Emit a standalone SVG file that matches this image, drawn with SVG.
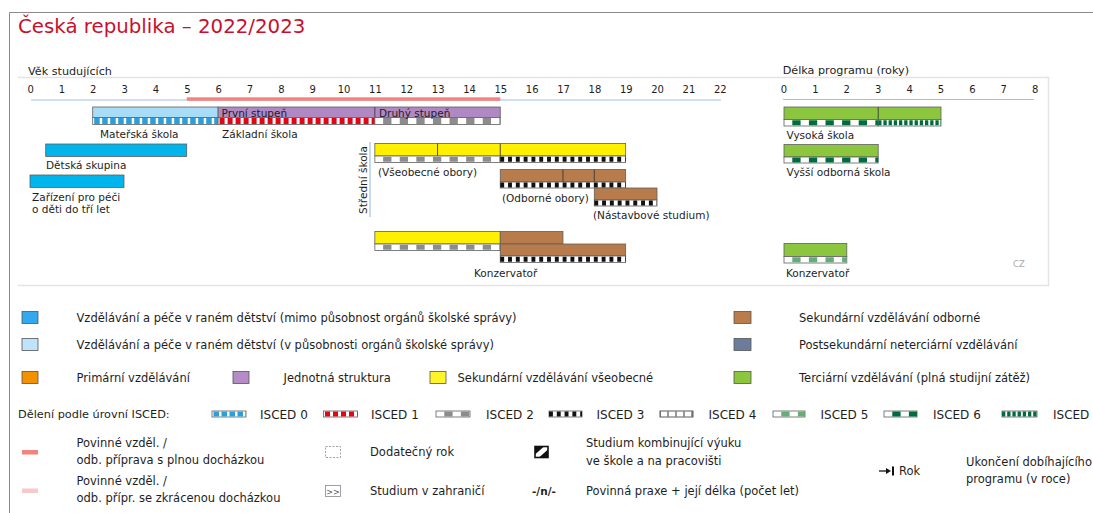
<svg xmlns="http://www.w3.org/2000/svg" width="1093" height="513" viewBox="0 0 1093 513">
<style>
text{font-family:"DejaVu Sans","Liberation Sans",sans-serif;fill:#1e1e1e}
.title{font-size:19.8px;fill:#c8102e}
.h{font-size:11.2px}
.ax{font-size:10px;text-anchor:middle}
.lab{font-size:10.5px}
.lg{font-size:11.5px}
.isc{font-size:12px}
.bar{stroke:#5f5f5f;stroke-width:0.8}
.st{fill:#fff;stroke:#5f5f5f;stroke-width:0.8}
.dv{stroke:#3a3a3a;stroke-width:0.9}
.sq{stroke:#555;stroke-width:0.8}
.lb{fill:#a9dcf6}
.cy{fill:#00b4ec}
.pu{fill:#b088c4}
.ye{fill:#fff000}
.br{fill:#b87c4c}
.gr{fill:#8cc63e}
.d0{stroke:#2a9fd9;stroke-dasharray:5.5 2.5;stroke-dashoffset:-1.5}
.d1{stroke:#e30613;stroke-dasharray:5 3;stroke-dashoffset:-1.5}
.d2{stroke:#8c8c8c;stroke-dasharray:8.3 8.3;stroke-dashoffset:8.3}
.d3{stroke:#111;stroke-dasharray:3.9 3.9}
.d4{stroke:#333;stroke-dasharray:1 7;stroke-dashoffset:-7.5}
.d5{stroke:#64ad74;stroke-dasharray:8.3 8.3;stroke-dashoffset:8.3}
.d6{stroke:#006b3c;stroke-dasharray:8.3 8.3;stroke-dashoffset:8.3}
.d7{stroke:#006b3c;stroke-dasharray:3.3 1.9}
.frame{fill:none;stroke:#8a8a8a;stroke-width:1}
.sep{fill:none;stroke:#e4e4e4;stroke-width:1.5}
</style>

<!-- frame -->
<path class="frame" d="M9.5,513 V12.5 H1093"/>
<text class="title" x="18" y="33">Česká republika – 2022/2023</text>

<g id="connectors">
  <path class="sep" d="M18,77.5 H1048.5 V285.5 H18"/>
  <line x1="31" y1="100" x2="721" y2="100" stroke="#9cc3e8" stroke-width="1.2"/>
  <rect x="186.75" y="97.3" width="313.5" height="3.5" fill="#f4837d"/>
  <line x1="783" y1="99.5" x2="1034" y2="99.5" stroke="#9cc3e8" stroke-width="1.2"/>
  <line x1="370" y1="142" x2="370" y2="217" stroke="#9cc3e8" stroke-width="1.2"/>
</g>

<g id="age-axis">
  <text class="h" x="28" y="75">Věk studujících</text>
  <text class="ax" x="30.6" y="93">0</text>
  <text class="ax" x="61.95" y="93">1</text>
  <text class="ax" x="93.3" y="93">2</text>
  <text class="ax" x="124.65" y="93">3</text>
  <text class="ax" x="156" y="93">4</text>
  <text class="ax" x="187.35" y="93">5</text>
  <text class="ax" x="218.7" y="93">6</text>
  <text class="ax" x="250.05" y="93">7</text>
  <text class="ax" x="281.4" y="93">8</text>
  <text class="ax" x="312.75" y="93">9</text>
  <text class="ax" x="344.1" y="93">10</text>
  <text class="ax" x="375.45" y="93">11</text>
  <text class="ax" x="406.8" y="93">12</text>
  <text class="ax" x="438.15" y="93">13</text>
  <text class="ax" x="469.5" y="93">14</text>
  <text class="ax" x="500.85" y="93">15</text>
  <text class="ax" x="532.2" y="93">16</text>
  <text class="ax" x="563.55" y="93">17</text>
  <text class="ax" x="594.9" y="93">18</text>
  <text class="ax" x="626.25" y="93">19</text>
  <text class="ax" x="657.6" y="93">20</text>
  <text class="ax" x="688.95" y="93">21</text>
  <text class="ax" x="720.3" y="93">22</text>
</g>

<g id="duration-axis">
  <text class="h" x="782.7" y="74">Délka programu (roky)</text>
  <text class="ax" x="784" y="93">0</text>
  <text class="ax" x="815.4" y="93">1</text>
  <text class="ax" x="846.8" y="93">2</text>
  <text class="ax" x="878.2" y="93">3</text>
  <text class="ax" x="909.6" y="93">4</text>
  <text class="ax" x="941" y="93">5</text>
  <text class="ax" x="972.4" y="93">6</text>
  <text class="ax" x="1003.8" y="93">7</text>
  <text class="ax" x="1035.2" y="93">8</text>
</g>

<!-- Mateřská škola -->
<g id="materska-skola">
  <rect class="bar lb" x="92.7" y="107" width="125.4" height="10.5"/>
  <rect class="st" x="92.7" y="117.5" width="125.4" height="7"/>
  <line class="d0" x1="92.7" y1="121" x2="218.1" y2="121" stroke-width="5.8"/>
  <text class="lab" x="100" y="138">Mateřská škola</text>
</g>

<!-- Základní škola -->
<g id="zakladni-skola">
  <rect class="bar pu" x="218.1" y="107" width="282.15" height="10.5"/>
  <line class="dv" x1="374.85" y1="107" x2="374.85" y2="124.5"/>
  <rect class="st" x="218.1" y="117.5" width="156.75" height="7"/>
  <line class="d1" x1="218.1" y1="121" x2="374.85" y2="121" stroke-width="5.8"/>
  <rect class="st" x="374.85" y="117.5" width="125.4" height="7"/>
  <line class="d2" x1="374.85" y1="121" x2="500.25" y2="121" stroke-width="5.8"/>
  <text class="lab" x="221.5" y="116.5">První stupeň</text>
  <text class="lab" x="379" y="116.5">Druhý stupeň</text>
  <text class="lab" x="222" y="138">Základní škola</text>
</g>

<g id="detska-skupina">
  <rect class="bar cy" x="45.7" y="144" width="141" height="12.5"/>
  <text class="lab" x="46" y="169">Dětská skupina</text>
</g>

<g id="zarizeni">
  <rect class="bar cy" x="30" y="175" width="94" height="12.5"/>
  <text class="lab" x="32" y="201">Zařízení pro péči</text>
  <text class="lab" x="32" y="213">o děti do tří let</text>
</g>

<g id="stredni-skola-label">
  <text class="lab" transform="translate(367,180) rotate(-90)" text-anchor="middle">Střední škola</text>
</g>

<g id="vseobecne-obory">
  <rect class="bar ye" x="374.85" y="143.5" width="250.8" height="12.5"/>
  <line class="dv" x1="437.55" y1="143.5" x2="437.55" y2="156"/>
  <line class="dv" x1="500.25" y1="143.5" x2="500.25" y2="156"/>
  <rect class="st" x="374.85" y="156" width="125.4" height="6.5"/>
  <line class="d2" x1="374.85" y1="159.25" x2="500.25" y2="159.25" stroke-width="5.2"/>
  <rect class="st" x="500.25" y="156" width="125.4" height="6.5"/>
  <line class="d3" x1="500.25" y1="159.25" x2="625.65" y2="159.25" stroke-width="5.2"/>
  <text class="lab" x="378" y="176">(Všeobecné obory)</text>
</g>

<g id="odborne-obory">
  <rect class="bar br" x="500.25" y="169.5" width="125.4" height="12.5"/>
  <line class="dv" x1="562.95" y1="169.5" x2="562.95" y2="182"/>
  <line class="dv" x1="594.3" y1="169.5" x2="594.3" y2="182"/>
  <rect class="st" x="500.25" y="182" width="125.4" height="6"/>
  <line class="d3" x1="500.25" y1="185" x2="625.65" y2="185" stroke-width="4.8"/>
  <text class="lab" x="502" y="202">(Odborné obory)</text>
</g>

<g id="nastavbove-studium">
  <rect class="bar br" x="594.3" y="188" width="62.7" height="12"/>
  <rect class="st" x="594.3" y="200" width="62.7" height="6"/>
  <line class="d3" x1="594.3" y1="203" x2="657" y2="203" stroke-width="4.8"/>
  <text class="lab" x="593" y="219">(Nástavbové studium)</text>
</g>

<g id="konzervator">
  <rect class="bar ye" x="374.85" y="231.5" width="125.4" height="12.5"/>
  <rect class="st" x="374.85" y="244" width="125.4" height="6.5"/>
  <line class="d2" x1="374.85" y1="247.25" x2="500.25" y2="247.25" stroke-width="5.2"/>
  <rect class="bar br" x="500.25" y="231.5" width="62.7" height="12.5"/>
  <rect class="bar br" x="500.25" y="244" width="125.4" height="12"/>
  <rect class="st" x="500.25" y="256" width="125.4" height="6.5"/>
  <line class="d3" x1="500.25" y1="259.25" x2="625.65" y2="259.25" stroke-width="5.2"/>
  <text class="lab" x="474" y="277">Konzervatoř</text>
</g>

<g id="vysoka-skola">
  <rect class="bar gr" x="784" y="107" width="157" height="12.5"/>
  <line class="dv" x1="878.2" y1="107" x2="878.2" y2="126"/>
  <rect class="st" x="784" y="119.5" width="94.2" height="6.5"/>
  <line class="d6" x1="784" y1="122.75" x2="878.2" y2="122.75" stroke-width="5.2"/>
  <rect class="st" x="878.2" y="119.5" width="62.8" height="6.5"/>
  <line class="d7" x1="878.2" y1="122.75" x2="941" y2="122.75" stroke-width="5.2"/>
  <text class="lab" x="786.5" y="139">Vysoká škola</text>
</g>

<g id="vyssi-odborna-skola">
  <rect class="bar gr" x="784" y="144.5" width="94.2" height="12.5"/>
  <rect class="st" x="784" y="157" width="94.2" height="6"/>
  <line class="d6" x1="784" y1="160" x2="878.2" y2="160" stroke-width="4.8"/>
  <text class="lab" x="786.5" y="176">Vyšší odborná škola</text>
</g>

<g id="konzervator-terciarni">
  <rect class="bar gr" x="784" y="243.5" width="62.8" height="13"/>
  <rect class="st" x="784" y="256.5" width="62.8" height="6.5"/>
  <line class="d5" x1="784" y1="259.75" x2="846.8" y2="259.75" stroke-width="5.2"/>
  <text class="lab" x="786" y="277">Konzervatoř</text>
  <text x="1013" y="267" style="font-size:8.5px;fill:#a8a8a8">CZ</text>
</g>

<!-- Legend: colours -->
<g id="legend-colours">
  <rect class="sq" x="22" y="311.5" width="16" height="12" fill="#34a8ee"/>
  <text class="lg" x="76.5" y="321.5">Vzdělávání a péče v raném dětství (mimo působnost orgánů školské správy)</text>
  <rect class="sq" x="22" y="338.5" width="16" height="12" fill="#bfe3fa"/>
  <text class="lg" x="76.5" y="348.5">Vzdělávání a péče v raném dětství (v působnosti orgánů školské správy)</text>
  <rect class="sq" x="22" y="371.5" width="16" height="12" fill="#f39200"/>
  <text class="lg" x="76.5" y="382">Primární vzdělávání</text>
  <rect class="sq" x="233" y="371.5" width="16" height="12" fill="#b48cc6"/>
  <text class="lg" x="283.5" y="382">Jednotná struktura</text>
  <rect class="sq" x="430" y="371.5" width="16" height="12" fill="#fff32a"/>
  <text class="lg" x="457.5" y="382">Sekundární vzdělávání všeobecné</text>
  <rect class="sq" x="734" y="311.5" width="17" height="12" fill="#b97c4c"/>
  <text class="lg" x="799" y="321.5">Sekundární vzdělávání odborné</text>
  <rect class="sq" x="734" y="338.5" width="17" height="12" fill="#6b7d9b"/>
  <text class="lg" x="799" y="348.5">Postsekundární neterciární vzdělávání</text>
  <rect class="sq" x="734" y="371.5" width="17" height="12" fill="#8cc63e"/>
  <text class="lg" x="799" y="382">Terciární vzdělávání (plná studijní zátěž)</text>
</g>

<!-- Legend: ISCED -->
<g id="legend-isced">
  <text x="18" y="418" style="font-size:11.3px">Dělení podle úrovní ISCED:</text>
  <rect class="st" x="212" y="411" width="34" height="6"/>
  <line class="d0" x1="212" y1="414" x2="246" y2="414" stroke-width="4.8"/>
  <text class="isc" x="260" y="418.5">ISCED 0</text>
  <rect class="st" x="323.5" y="411" width="34" height="6"/>
  <line class="d1" x1="323.5" y1="414" x2="357.5" y2="414" stroke-width="4.8"/>
  <text class="isc" x="371" y="418.5">ISCED 1</text>
  <rect class="st" x="436" y="411" width="34" height="6"/>
  <line class="d2" x1="436" y1="414" x2="470" y2="414" stroke-width="4.8"/>
  <text class="isc" x="486" y="418.5">ISCED 2</text>
  <rect class="st" x="549" y="411" width="33" height="6"/>
  <line class="d3" x1="549" y1="414" x2="582" y2="414" stroke-width="4.8"/>
  <text class="isc" x="596.5" y="418.5">ISCED 3</text>
  <rect class="st" x="660" y="411" width="33" height="6" style="stroke:#333"/>
  <line class="d4" x1="660" y1="414" x2="693" y2="414" stroke-width="4.8"/>
  <text class="isc" x="708.5" y="418.5">ISCED 4</text>
  <rect class="st" x="773" y="411" width="32" height="6"/>
  <line class="d5" x1="773" y1="414" x2="805" y2="414" stroke-width="4.8"/>
  <text class="isc" x="820.5" y="418.5">ISCED 5</text>
  <rect class="st" x="884" y="411" width="33" height="6"/>
  <line class="d6" x1="884" y1="414" x2="917" y2="414" stroke-width="4.8"/>
  <text class="isc" x="933" y="418.5">ISCED 6</text>
  <rect class="st" x="1002" y="411" width="35" height="6"/>
  <line class="d7" x1="1002" y1="414" x2="1037" y2="414" stroke-width="4.8"/>
  <text class="isc" x="1053" y="418.5">ISCED 7</text>
</g>

<!-- Legend: symbols -->
<g id="legend-symbols">
  <rect x="22" y="450" width="16" height="4.5" fill="#f4837d"/>
  <text class="lg" x="76.5" y="446.5">Povinné vzděl. /</text>
  <text class="lg" x="76.5" y="464">odb. příprava s plnou docházkou</text>
  <rect x="22" y="488.5" width="16" height="4.5" fill="#f6c9cb"/>
  <text class="lg" x="76.5" y="485">Povinné vzděl. /</text>
  <text class="lg" x="76.5" y="502">odb. přípr. se zkrácenou docházkou</text>

  <rect x="325.5" y="446.5" width="15" height="11" fill="none" stroke="#888" stroke-width="0.8" stroke-dasharray="2 1.5"/>
  <text class="lg" x="370" y="456">Dodatečný rok</text>
  <rect x="325.5" y="485.5" width="15" height="11" fill="none" stroke="#888" stroke-width="0.8"/>
  <text x="333" y="494.5" text-anchor="middle" style="font-size:8px;fill:#555">&gt;&gt;</text>
  <text class="lg" x="370" y="495">Studium v zahraničí</text>

  <rect x="535" y="446.5" width="13" height="11" fill="#fff" stroke="#111" stroke-width="1.6"/>
  <polygon points="535,446.5 544,446.5 535,454.5" fill="#111"/>
  <polygon points="548,457.5 539,457.5 548,449.5" fill="#111"/>
  <text class="lg" x="586" y="446.5">Studium kombinující výuku</text>
  <text class="lg" x="586" y="464.5">ve škole a na pracovišti</text>
  <text class="lg" x="532" y="495" style="font-weight:bold;font-size:10.5px">-/n/-</text>
  <text class="lg" x="586" y="495">Povinná praxe + její délka (počet let)</text>

  <line x1="879" y1="471" x2="889" y2="471" stroke="#111" stroke-width="1.3"/>
  <polygon points="891,471 886,468 886,474" fill="#111"/>
  <line x1="893" y1="466.5" x2="893" y2="475.5" stroke="#111" stroke-width="2"/>
  <text class="lg" x="899" y="475">Rok</text>
  <text class="lg" x="966" y="466">Ukončení dobíhajícího</text>
  <text class="lg" x="966" y="483">programu (v roce)</text>
</g>
</svg>
